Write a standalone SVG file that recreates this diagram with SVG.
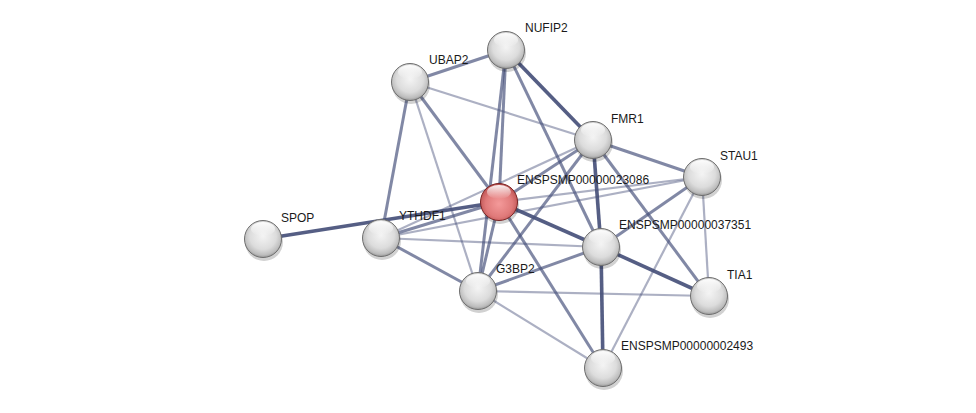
<svg xmlns="http://www.w3.org/2000/svg" width="976" height="413" viewBox="0 0 976 413">
<style>
.e{stroke:#46507a;fill:none;stroke-linecap:butt}
.t{stroke-width:3.6;stroke-opacity:0.92}
.m{stroke-width:3;stroke-opacity:0.68}
.l{stroke-width:2.2;stroke-opacity:0.45}
.lab{font-family:"Liberation Sans",Arial,sans-serif;font-size:12px;fill:#1a1a1a}
.g{fill:url(#gray);stroke:#6e6e6e;stroke-width:1}
.r{fill:url(#red);stroke:#7a2424;stroke-width:1}
.sh{fill:#000;opacity:0.18}
.hl{fill:url(#hi)}
</style>
<defs>
<radialGradient id="gray" cx="0.5" cy="0.42" r="0.6">
<stop offset="0" stop-color="#f4f4f4"/>
<stop offset="0.6" stop-color="#dcdcdc"/>
<stop offset="0.85" stop-color="#bdbdbd"/>
<stop offset="1" stop-color="#8e8e8e"/>
</radialGradient>
<radialGradient id="red" cx="0.5" cy="0.55" r="0.6">
<stop offset="0" stop-color="#f49a9a"/>
<stop offset="0.6" stop-color="#e07a7a"/>
<stop offset="0.85" stop-color="#c45a5a"/>
<stop offset="1" stop-color="#8f3333"/>
</radialGradient>
<linearGradient id="hi" x1="0" y1="0" x2="0" y2="1">
<stop offset="0" stop-color="#fff" stop-opacity="0.95"/>
<stop offset="1" stop-color="#fff" stop-opacity="0"/>
</linearGradient>
</defs>
<rect width="976" height="413" fill="#fff"/>
<g id="edges">
<line class="e l" x1="410" y1="82" x2="593" y2="140"/>
<line class="e l" x1="410" y1="82" x2="478" y2="291"/>
<line class="e l" x1="381" y1="238" x2="593" y2="140"/>
<line class="e l" x1="381" y1="238" x2="702" y2="177"/>
<line class="e l" x1="499" y1="202" x2="702" y2="177"/>
<line class="e l" x1="702" y1="177" x2="709" y2="296"/>
<line class="e l" x1="702" y1="177" x2="603" y2="368"/>
<line class="e l" x1="478" y1="291" x2="709" y2="296"/>
<line class="e l" x1="478" y1="291" x2="603" y2="368"/>
<line class="e l" x1="381" y1="238" x2="601" y2="247"/>
<line class="e m" x1="506" y1="50" x2="410" y2="82"/>
<line class="e m" x1="506" y1="50" x2="499" y2="202"/>
<line class="e m" x1="506" y1="50" x2="478" y2="291"/>
<line class="e m" x1="506" y1="50" x2="601" y2="247"/>
<line class="e m" x1="410" y1="82" x2="499" y2="202"/>
<line class="e m" x1="410" y1="82" x2="381" y2="238"/>
<line class="e m" x1="593" y1="140" x2="499" y2="202"/>
<line class="e m" x1="593" y1="140" x2="702" y2="177"/>
<line class="e m" x1="593" y1="140" x2="709" y2="296"/>
<line class="e m" x1="593" y1="140" x2="478" y2="291"/>
<line class="e m" x1="381" y1="238" x2="499" y2="202"/>
<line class="e m" x1="381" y1="238" x2="478" y2="291"/>
<line class="e m" x1="499" y1="202" x2="478" y2="291"/>
<line class="e m" x1="499" y1="202" x2="603" y2="368"/>
<line class="e m" x1="478" y1="291" x2="601" y2="247"/>
<line class="e m" x1="702" y1="177" x2="601" y2="247"/>
<line class="e t" x1="506" y1="50" x2="593" y2="140"/>
<line class="e t" x1="593" y1="140" x2="601" y2="247"/>
<line class="e t" x1="601" y1="247" x2="603" y2="368"/>
<line class="e t" x1="601" y1="247" x2="709" y2="296"/>
<line class="e t" x1="499" y1="202" x2="601" y2="247"/>
<line class="e t" x1="263" y1="239" x2="499" y2="202"/>
</g>
<g id="n-NUFIP2">
<ellipse class="sh" cx="507" cy="53" rx="19" ry="19"/>
<circle class="g" cx="506" cy="50" r="18.5"/>
<ellipse class="hl" cx="506" cy="40" rx="12" ry="7"/>
<text class="lab" x="525" y="32">NUFIP2</text>
</g>
<g id="n-UBAP2">
<ellipse class="sh" cx="411" cy="85" rx="19" ry="19"/>
<circle class="g" cx="410" cy="82" r="18.5"/>
<ellipse class="hl" cx="410" cy="72" rx="12" ry="7"/>
<text class="lab" x="429" y="64">UBAP2</text>
</g>
<g id="n-FMR1">
<ellipse class="sh" cx="594" cy="143" rx="19" ry="19"/>
<circle class="g" cx="593" cy="140" r="18.5"/>
<ellipse class="hl" cx="593" cy="130" rx="12" ry="7"/>
<text class="lab" x="611" y="123">FMR1</text>
</g>
<g id="n-STAU1">
<ellipse class="sh" cx="703" cy="180" rx="19" ry="19"/>
<circle class="g" cx="702" cy="177" r="18.5"/>
<ellipse class="hl" cx="702" cy="167" rx="12" ry="7"/>
<text class="lab" x="720" y="160">STAU1</text>
</g>
<g id="n-ENSPSMP00000023086">
<ellipse class="sh" cx="500" cy="205" rx="19" ry="19"/>
<circle class="r" cx="499" cy="202" r="18.5"/>
<ellipse class="hl" cx="499" cy="192" rx="12" ry="7"/>
<text class="lab" x="517" y="184">ENSPSMP00000023086</text>
</g>
<g id="n-SPOP">
<ellipse class="sh" cx="264" cy="242" rx="19" ry="19"/>
<circle class="g" cx="263" cy="239" r="18.5"/>
<ellipse class="hl" cx="263" cy="229" rx="12" ry="7"/>
<text class="lab" x="281" y="222">SPOP</text>
</g>
<g id="n-YTHDF1">
<ellipse class="sh" cx="382" cy="241" rx="19" ry="19"/>
<circle class="g" cx="381" cy="238" r="18.5"/>
<ellipse class="hl" cx="381" cy="228" rx="12" ry="7"/>
<text class="lab" x="399" y="220">YTHDF1</text>
</g>
<g id="n-ENSPSMP00000037351">
<ellipse class="sh" cx="602" cy="250" rx="19" ry="19"/>
<circle class="g" cx="601" cy="247" r="18.5"/>
<ellipse class="hl" cx="601" cy="237" rx="12" ry="7"/>
<text class="lab" x="619" y="229">ENSPSMP00000037351</text>
</g>
<g id="n-G3BP2">
<ellipse class="sh" cx="479" cy="294" rx="19" ry="19"/>
<circle class="g" cx="478" cy="291" r="18.5"/>
<ellipse class="hl" cx="478" cy="281" rx="12" ry="7"/>
<text class="lab" x="496" y="273">G3BP2</text>
</g>
<g id="n-TIA1">
<ellipse class="sh" cx="710" cy="299" rx="19" ry="19"/>
<circle class="g" cx="709" cy="296" r="18.5"/>
<ellipse class="hl" cx="709" cy="286" rx="12" ry="7"/>
<text class="lab" x="727" y="279">TIA1</text>
</g>
<g id="n-ENSPSMP00000002493">
<ellipse class="sh" cx="604" cy="371" rx="19" ry="19"/>
<circle class="g" cx="603" cy="368" r="18.5"/>
<ellipse class="hl" cx="603" cy="358" rx="12" ry="7"/>
<text class="lab" x="621" y="350">ENSPSMP00000002493</text>
</g>
</svg>
